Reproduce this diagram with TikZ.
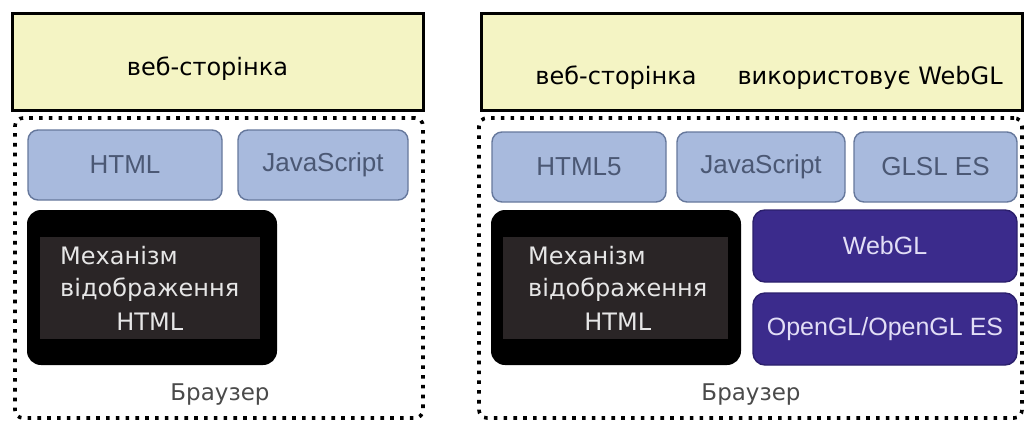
\documentclass[tikz,border=0pt]{standalone}
\usepackage{fontspec}
\setmainfont{DejaVu Sans}
\newfontfamily\arialfont{Liberation Sans}
\usetikzlibrary{positioning}

\definecolor{pageyellow}{HTML}{F4F4C4}
\definecolor{langfill}{HTML}{A8BADD}
\definecolor{langdraw}{HTML}{66789C}
\definecolor{langtext}{HTML}{4B5874}
\definecolor{glfill}{HTML}{3B2B8C}
\definecolor{gldraw}{HTML}{2B1F6C}
\definecolor{gltext}{HTML}{E2DEF6}
\definecolor{enginegray}{HTML}{2A2526}
\definecolor{enginetext}{HTML}{E6E6E6}
\definecolor{browsertext}{HTML}{4A4A4A}

\begin{document}
\begin{tikzpicture}[x=1pt, y=-1pt,
	pagebox/.style={shape=rectangle, draw=black, line width=3pt, fill=pageyellow, inner sep=0pt},
	frame/.style={shape=rectangle, draw=black, line width=3.6pt, dash pattern=on 3.6pt off 6.2pt, rounded corners=8pt, inner sep=0pt},
	langbox/.style={shape=rectangle, rounded corners=10pt, draw=langdraw, line width=1.4pt, fill=langfill, text=langtext, inner sep=0pt, font=\arialfont\fontsize{26}{30}\selectfont},
	glbox/.style={shape=rectangle, rounded corners=12pt, draw=gldraw, line width=1.4pt, fill=glfill, text=gltext, inner sep=0pt, font=\arialfont\fontsize{25}{30}\selectfont},
	enginebox/.style={shape=rectangle, rounded corners=14pt, fill=black, inner sep=0pt},
	engineinner/.style={shape=rectangle, fill=enginegray, inner sep=0pt},
	enginelabel/.style={text=enginetext, inner sep=0pt, font=\fontsize{24}{32}\selectfont},
	pagelabel/.style={inner sep=0pt, font=\fontsize{24}{28}\selectfont},
	browserlabel/.style={text=browsertext, inner sep=0pt, font=\fontsize{23}{28}\selectfont}]

	\useasboundingbox (0,0) rectangle (1025,423);

	% left: plain page
	\node (page1)[pagebox, minimum width=411pt, minimum height=97pt] at (217.5,61.5) {};
	\node (page1txt)[pagelabel] at (207.5,69) {веб-сторінка};

	\node (browser1)[frame, minimum width=408pt, minimum height=300pt] at (219,268) {};

	\node (html1)[langbox, minimum width=194pt, minimum height=70pt] at (125,165) {HTML};
	\node (js1)[langbox, minimum width=170pt, minimum height=70pt] at (323,165) {JavaScript};

	\node (engine1)[enginebox, minimum width=250pt, minimum height=155pt] at (152,287.5) {};
	\node (inner1)[engineinner, minimum width=220pt, minimum height=102pt] at (150,288) {};
	\node (eng1txt)[enginelabel, align=left, anchor=west] at (60,274) {Механізм\\відображення};
	\node (eng1html)[enginelabel, below=11pt of eng1txt] {HTML};

	\node (brw1)[browserlabel] at (220,395) {Браузер};

	% right: page with WebGL
	\node (page2)[pagebox, minimum width=541pt, minimum height=97pt] at (751.5,61.5) {};
	\node (page2txt)[pagelabel] at (769,78) {веб-сторінка\hspace{41pt}використовує WebGL};

	\node (browser2)[frame, minimum width=543pt, minimum height=300pt] at (750.5,268) {};

	\node (html5)[langbox, minimum width=174pt, minimum height=70pt] at (579,167) {HTML5};
	\node (js2)[langbox, minimum width=168pt, minimum height=70pt] at (761,167) {JavaScript};
	\node (glsl)[langbox, minimum width=163pt, minimum height=70pt] at (935.5,167) {GLSL ES};

	\node (engine2)[enginebox, minimum width=250pt, minimum height=155pt] at (616,287.5) {};
	\node (inner2)[engineinner, minimum width=225pt, minimum height=102pt] at (615.5,288) {};
	\node (eng2txt)[enginelabel, align=left, anchor=west] at (528,274) {Механізм\\відображення};
	\node (eng2html)[enginelabel, below=11pt of eng2txt] {HTML};

	\node (webgl)[glbox, minimum width=264pt, minimum height=72pt] at (885,246) {WebGL};
	\node (opengl)[glbox, minimum width=264pt, minimum height=72pt] at (885,329) {OpenGL/OpenGL ES};

	\node (brw2)[browserlabel] at (751,395) {Браузер};
\end{tikzpicture}
\end{document}
